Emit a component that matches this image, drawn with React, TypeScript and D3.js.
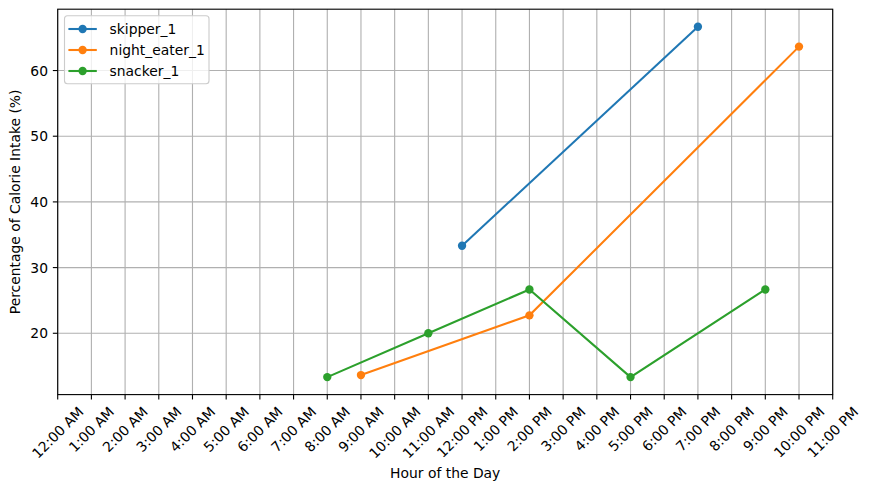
import React, { useEffect, useRef } from 'react';
import * as d3 from 'd3';

// Hours 0..23 shown on the x axis
const hours: number[] = d3.range(0, 24);
const hourLabels: string[] = [
    '12:00 AM', '1:00 AM', '2:00 AM', '3:00 AM', '4:00 AM', '5:00 AM',
    '6:00 AM', '7:00 AM', '8:00 AM', '9:00 AM', '10:00 AM', '11:00 AM',
    '12:00 PM', '1:00 PM', '2:00 PM', '3:00 PM', '4:00 PM', '5:00 PM',
    '6:00 PM', '7:00 PM', '8:00 PM', '9:00 PM', '10:00 PM', '11:00 PM'
];
const yTicks: number[] = [20, 30, 40, 50, 60];

const seriesNames: string[] = ['skipper_1', 'night_eater_1', 'snacker_1'];
const seriesColors: string[] = ['#1f77b4', '#ff7f0e', '#2ca02c'];

const skipperHours: number[] = [12, 19];
const skipperValues: number[] = [33.33, 66.67];
const nightEaterHours: number[] = [9, 14, 22];
const nightEaterValues: number[] = [13.64, 22.73, 63.64];
const snackerHours: number[] = [8, 11, 14, 17, 21];
const snackerValues: number[] = [13.33, 20.0, 26.67, 13.33, 26.67];

const seriesHours = [skipperHours, nightEaterHours, snackerHours];
const seriesValues = [skipperValues, nightEaterValues, snackerValues];

const FONT = '"DejaVu Sans", sans-serif';
const FS = 13.89;

export default function App() {
    const ref = useRef<SVGSVGElement>(null);

    useEffect(() => {
        const width = 869;
        const height = 490;
        const left = 57.7;
        const right = 832.7;
        const top = 9.2;
        const bottom = 394.6;

        // y domain: data range with 5% margins (matplotlib auto limits)
        const allVals = seriesValues.flat();
        const vmin = d3.min(allVals)!;
        const vmax = d3.max(allVals)!;
        const pad = (vmax - vmin) * 0.05;

        const x = d3.scaleLinear().domain([0, 23]).range([left, right]);
        const y = d3.scaleLinear().domain([vmin - pad, vmax + pad]).range([bottom, top]);

        const svg = d3.select(ref.current!);
        svg.selectAll('*').remove();
        svg.attr('width', width).attr('height', height).style('font-family', FONT);

        svg.append('rect').attr('width', width).attr('height', height).attr('fill', 'white');

        // grid
        const grid = svg.append('g').attr('stroke', '#b0b0b0').attr('stroke-width', 1.11);
        grid.selectAll('line.v')
            .data(hours)
            .join('line')
            .attr('x1', (d) => x(d))
            .attr('x2', (d) => x(d))
            .attr('y1', top)
            .attr('y2', bottom);
        grid.selectAll('line.h')
            .data(yTicks)
            .join('line')
            .attr('x1', left)
            .attr('x2', right)
            .attr('y1', (d) => y(d))
            .attr('y2', (d) => y(d));

        // series
        const line = d3
            .line<[number, number]>()
            .x((d) => x(d[0]))
            .y((d) => y(d[1]));
        seriesNames.forEach((name, i) => {
            const pts: [number, number][] = seriesHours[i].map((h, j) => [h, seriesValues[i][j]]);
            const g = svg.append('g');
            g.append('path')
                .attr('d', line(pts))
                .attr('fill', 'none')
                .attr('stroke', seriesColors[i])
                .attr('stroke-width', 2.08);
            g.selectAll('circle')
                .data(pts)
                .join('circle')
                .attr('cx', (d) => x(d[0]))
                .attr('cy', (d) => y(d[1]))
                .attr('r', 4.17)
                .attr('fill', seriesColors[i]);
        });

        // frame
        svg.append('rect')
            .attr('x', left)
            .attr('y', top)
            .attr('width', right - left)
            .attr('height', bottom - top)
            .attr('fill', 'none')
            .attr('stroke', 'black')
            .attr('stroke-width', 1.11);

        // x ticks
        const xt = svg.append('g');
        xt.selectAll('line')
            .data(hours)
            .join('line')
            .attr('x1', (d) => x(d))
            .attr('x2', (d) => x(d))
            .attr('y1', bottom)
            .attr('y2', bottom + 4.86)
            .attr('stroke', 'black')
            .attr('stroke-width', 1.11);
        const labelTop = bottom + 4.86 + 4.86;
        xt.selectAll('text')
            .data(hours)
            .join('text')
            .attr('font-size', FS)
            .attr('text-anchor', 'middle')
            .attr('dominant-baseline', 'central')
            .attr('fill', 'black')
            .text((d) => hourLabels[d])
            .each(function (this: SVGTextElement, d) {
                const w = this.getComputedTextLength();
                const cy = labelTop + ((w + FS) * Math.SQRT1_2) / 2;
                const cx = x(d);
                d3.select(this)
                    .attr('x', cx)
                    .attr('y', cy)
                    .attr('transform', `rotate(-45, ${cx}, ${cy})`);
            });

        // y ticks
        const yt = svg.append('g');
        yt.selectAll('line')
            .data(yTicks)
            .join('line')
            .attr('x1', left - 4.86)
            .attr('x2', left)
            .attr('y1', (d) => y(d))
            .attr('y2', (d) => y(d))
            .attr('stroke', 'black')
            .attr('stroke-width', 1.11);
        yt.selectAll('text')
            .data(yTicks)
            .join('text')
            .attr('x', left - 9.72)
            .attr('y', (d) => y(d))
            .attr('dy', '0.36em')
            .attr('font-size', FS)
            .attr('text-anchor', 'end')
            .attr('fill', 'black')
            .text((d) => String(d));

        // axis titles
        svg.append('text')
            .attr('x', (left + right) / 2)
            .attr('y', 478)
            .attr('font-size', FS)
            .attr('text-anchor', 'middle')
            .text('Hour of the Day');
        const ycy = (top + bottom) / 2;
        svg.append('text')
            .attr('x', 20.5)
            .attr('y', ycy)
            .attr('font-size', FS)
            .attr('text-anchor', 'middle')
            .attr('transform', `rotate(-90, 20.5, ${ycy})`)
            .text('Percentage of Calorie Intake (%)');

        // legend
        const lg = svg.append('g');
        lg.append('rect')
            .attr('x', 64.5)
            .attr('y', 15.8)
            .attr('width', 144.5)
            .attr('height', 68)
            .attr('rx', 3)
            .attr('fill', 'white')
            .attr('fill-opacity', 0.8)
            .attr('stroke', '#cccccc')
            .attr('stroke-width', 1.11);
        seriesNames.forEach((name, i) => {
            const cy = 29 + i * 21;
            lg.append('line')
                .attr('x1', 68.4)
                .attr('x2', 96.8)
                .attr('y1', cy)
                .attr('y2', cy)
                .attr('stroke', seriesColors[i])
                .attr('stroke-width', 2.08);
            lg.append('circle').attr('cx', 82.6).attr('cy', cy).attr('r', 4.17).attr('fill', seriesColors[i]);
            lg.append('text')
                .attr('x', 109.6)
                .attr('y', cy)
                .attr('dy', '0.36em')
                .attr('font-size', FS)
                .text(name);
        });
    }, []);

    return (
        <div style={{ position: 'absolute', left: 0, top: 0 }}>
            <style>{`body { margin: 0; }`}</style>
            <svg ref={ref} />
        </div>
    );
}
